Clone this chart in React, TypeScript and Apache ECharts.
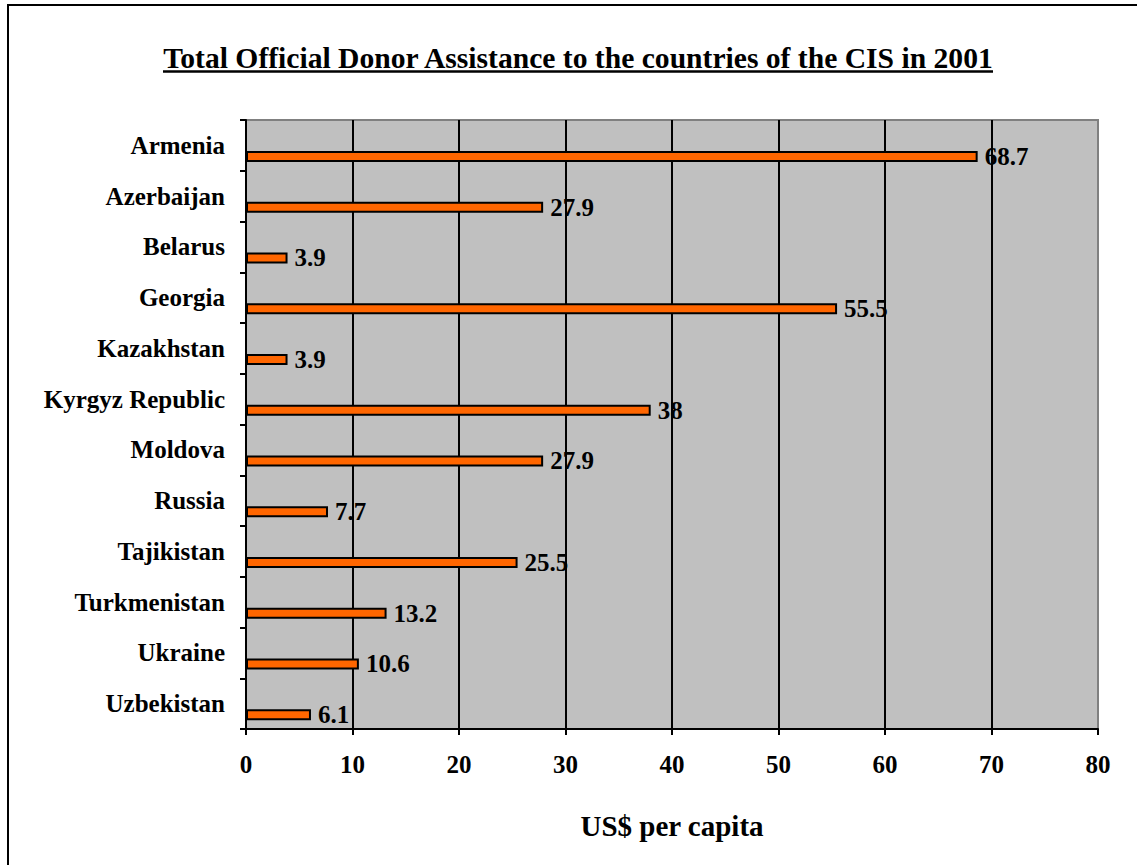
import React, { useEffect, useRef } from "react";
import * as echarts from "echarts";

const categories = [
  "Armenia",
  "Azerbaijan",
  "Belarus",
  "Georgia",
  "Kazakhstan",
  "Kyrgyz Republic",
  "Moldova",
  "Russia",
  "Tajikistan",
  "Turkmenistan",
  "Ukraine",
  "Uzbekistan",
];
const values = [68.7, 27.9, 3.9, 55.5, 3.9, 38, 27.9, 7.7, 25.5, 13.2, 10.6, 6.1];
const emptySlot = categories.map(() => null);
const titleText = "Total Official Donor Assistance to the countries of the CIS in 2001";
const axisTitle = "US$ per capita";

const FONT = '"Liberation Serif", "Times New Roman", serif';

export default function App() {
  const ref = useRef<HTMLDivElement>(null);
  useEffect(() => {
    if (!ref.current) return;
    const chart = echarts.init(ref.current, undefined, { renderer: "svg" });
    chart.setOption({
      animation: false,
      backgroundColor: "#ffffff",
      textStyle: { fontFamily: FONT },
      grid: {
        left: 246,
        top: 120,
        right: 39,
        bottom: 136,
        show: true,
        backgroundColor: "#C0C0C0",
        borderColor: "#808080",
        borderWidth: 2,
      },
      xAxis: {
        type: "value",
        min: 0,
        max: 80,
        interval: 10,
        name: axisTitle,
        nameLocation: "middle",
        nameGap: 82,
        nameTextStyle: {
          fontFamily: FONT,
          fontSize: 29,
          fontWeight: "bold",
          color: "#000",
          verticalAlign: "top",
        },
        axisLine: { show: true, lineStyle: { color: "#000", width: 2 } },
        axisTick: { show: true, length: 6, lineStyle: { color: "#000", width: 2 } },
        axisLabel: {
          margin: 23,
          fontFamily: FONT,
          fontSize: 25,
          fontWeight: "bold",
          color: "#000",
        },
        splitLine: {
          show: true,
          showMinLine: false,
          showMaxLine: false,
          lineStyle: { color: "#000", width: 2 },
        },
      },
      yAxis: {
        type: "category",
        data: categories,
        inverse: true,
        axisLine: { show: true, lineStyle: { color: "#000", width: 2 } },
        axisTick: { show: true, length: 6, lineStyle: { color: "#000", width: 2 } },
        axisLabel: {
          margin: 21,
          fontFamily: FONT,
          fontSize: 25,
          fontWeight: "bold",
          color: "#000",
        },
        splitLine: { show: false },
      },
      series: [
        {
          type: "bar",
          data: emptySlot,
          barWidth: 11,
          barGap: "100%",
          silent: true,
        },
        {
          type: "bar",
          data: values,
          barWidth: 11,
          barGap: "100%",
          itemStyle: { color: "#FF6600", borderColor: "#000", borderWidth: 2 },
          label: {
            show: true,
            position: "right",
            distance: 7,
            fontFamily: FONT,
            fontSize: 25,
            fontWeight: "bold",
            color: "#000",
          },
        },
      ],
      graphic: [
        {
          type: "rect",
          shape: { x: 8, y: 5, width: 1300, height: 1000 },
          style: { fill: "none", stroke: "#000", lineWidth: 2 },
          silent: true,
        },
        {
          type: "text",
          x: 578,
          y: 58,
          style: {
            text: titleText,
            font: `bold 29.6px ${FONT}`,
            fill: "#000",
            align: "center",
            verticalAlign: "middle",
          },
        },
        {
          type: "line",
          shape: { x1: 163, y1: 71.5, x2: 993, y2: 71.5 },
          style: { stroke: "#000", lineWidth: 2.5 },
        },
      ],
    });
    return () => chart.dispose();
  }, []);
  return (
    <div
      ref={ref}
      style={{ position: "fixed", left: 0, top: 0, width: 1137, height: 865 }}
    />
  );
}
